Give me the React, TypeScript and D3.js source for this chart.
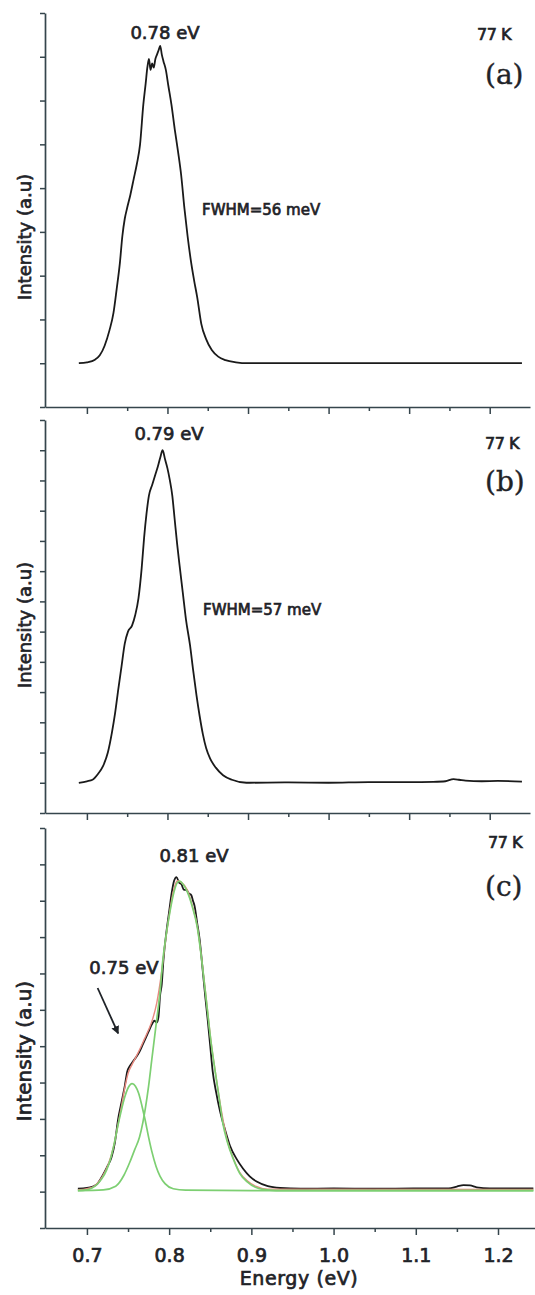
import React, { useEffect, useRef } from 'react';
import * as d3 from 'd3';

// (a) 77 K spectrum, peak 0.78 eV
const energyA = [0.690, 0.700, 0.710, 0.716, 0.722, 0.728, 0.733, 0.737, 0.741, 0.744, 0.747, 0.750, 0.754, 0.758, 0.762, 0.766, 0.770, 0.773, 0.775, 0.777, 0.779, 0.781, 0.783, 0.785, 0.787, 0.789, 0.791, 0.793, 0.795, 0.798, 0.801, 0.805, 0.809, 0.813, 0.817, 0.821, 0.825, 0.829, 0.833, 0.837, 0.842, 0.848, 0.855, 0.863, 0.872, 0.885, 0.900, 0.950, 1.000, 1.050, 1.100, 1.150, 1.200, 1.240];
const intensityA = [0.00, 0.02, 0.08, 0.18, 0.40, 0.75, 1.15, 1.70, 2.30, 2.90, 3.30, 3.55, 3.85, 4.20, 4.55, 5.00, 5.90, 6.40, 6.75, 6.95, 6.70, 6.85, 6.75, 6.95, 7.05, 7.15, 7.25, 7.05, 6.90, 6.70, 6.35, 5.90, 5.35, 4.85, 4.30, 3.55, 2.90, 2.35, 1.90, 1.50, 0.90, 0.55, 0.30, 0.15, 0.07, 0.02, 0.00, 0.00, 0.00, 0.00, 0.00, 0.00, 0.00, 0.00];

// (b) 77 K spectrum, peak 0.79 eV
const energyB = [0.690, 0.700, 0.707, 0.714, 0.720, 0.726, 0.731, 0.735, 0.739, 0.743, 0.747, 0.751, 0.756, 0.760, 0.764, 0.768, 0.771, 0.774, 0.777, 0.781, 0.785, 0.788, 0.791, 0.794, 0.797, 0.800, 0.803, 0.806, 0.809, 0.812, 0.815, 0.819, 0.823, 0.828, 0.832, 0.836, 0.840, 0.844, 0.848, 0.853, 0.860, 0.869, 0.880, 0.898, 0.950, 1.000, 1.050, 1.100, 1.130, 1.145, 1.155, 1.162, 1.170, 1.190, 1.210, 1.240];
const intensityB = [0.00, 0.05, 0.10, 0.30, 0.55, 1.00, 1.65, 2.30, 3.10, 3.85, 4.60, 5.00, 5.20, 5.55, 6.10, 7.10, 8.10, 8.90, 9.50, 9.85, 10.20, 10.45, 10.75, 11.00, 10.70, 10.40, 10.00, 9.50, 8.70, 7.90, 7.20, 6.30, 5.40, 4.55, 3.70, 2.90, 2.20, 1.60, 1.15, 0.80, 0.50, 0.25, 0.10, 0.00, 0.01, 0.00, 0.02, 0.02, 0.03, 0.05, 0.12, 0.10, 0.07, 0.05, 0.06, 0.04];

// (c) 77 K spectrum with two-peak fit (0.75 eV + 0.81 eV)
const energyC = [0.689, 0.700, 0.707, 0.712, 0.719, 0.725, 0.730, 0.734, 0.738, 0.742, 0.746, 0.749, 0.752, 0.756, 0.760, 0.764, 0.768, 0.772, 0.776, 0.779, 0.782, 0.785, 0.787, 0.789, 0.791, 0.793, 0.797, 0.800, 0.803, 0.806, 0.809, 0.812, 0.815, 0.818, 0.821, 0.824, 0.827, 0.829, 0.831, 0.834, 0.837, 0.841, 0.844, 0.847, 0.850, 0.853, 0.857, 0.862, 0.868, 0.874, 0.882, 0.890, 0.898, 0.907, 0.920, 0.935, 0.960, 1.000, 1.050, 1.100, 1.140, 1.150, 1.158, 1.166, 1.174, 1.190, 1.220, 1.243];
const intensityC = [0.08, 0.10, 0.14, 0.20, 0.44, 0.70, 0.95, 1.35, 2.00, 2.45, 2.90, 3.30, 3.45, 3.58, 3.70, 3.85, 4.05, 4.25, 4.45, 4.60, 4.70, 4.65, 4.80, 5.40, 5.70, 6.35, 7.20, 7.70, 8.20, 8.55, 8.65, 8.50, 8.45, 8.30, 8.30, 8.20, 8.15, 8.00, 7.85, 7.40, 6.95, 6.05, 5.35, 4.70, 4.00, 3.30, 2.75, 2.20, 1.70, 1.26, 0.90, 0.63, 0.42, 0.27, 0.15, 0.10, 0.08, 0.09, 0.08, 0.09, 0.09, 0.14, 0.18, 0.17, 0.12, 0.09, 0.09, 0.09];

const fitEnergy = [0.689, 0.700, 0.710, 0.719, 0.726, 0.732, 0.737, 0.742, 0.746, 0.750, 0.755, 0.760, 0.765, 0.770, 0.775, 0.780, 0.785, 0.790, 0.795, 0.800, 0.805, 0.810, 0.815, 0.822, 0.828, 0.834, 0.840, 0.846, 0.851, 0.856, 0.861, 0.866, 0.871, 0.878, 0.886, 0.895, 0.905, 0.920, 1.243];
const fitSum = [0.05, 0.08, 0.17, 0.42, 0.75, 1.20, 1.75, 2.35, 2.85, 3.25, 3.50, 3.72, 3.95, 4.20, 4.45, 4.75, 5.20, 5.90, 6.80, 7.60, 8.25, 8.55, 8.50, 8.30, 7.88, 7.32, 6.32, 5.12, 4.12, 3.32, 2.57, 1.92, 1.38, 0.92, 0.52, 0.30, 0.15, 0.07, 0.06];

const peak1Energy = [0.689, 0.700, 0.710, 0.718, 0.724, 0.728, 0.733, 0.738, 0.742, 0.746, 0.750, 0.755, 0.759, 0.763, 0.767, 0.771, 0.775, 0.779, 0.784, 0.789, 0.795, 0.805, 0.820, 0.900, 1.243];
const peak1Intensity = [0.03, 0.05, 0.15, 0.35, 0.60, 0.85, 1.30, 1.85, 2.25, 2.60, 2.85, 2.97, 2.90, 2.70, 2.35, 1.95, 1.50, 1.10, 0.70, 0.42, 0.22, 0.08, 0.04, 0.03, 0.03];

const peak2Energy = [0.689, 0.720, 0.735, 0.745, 0.752, 0.758, 0.764, 0.768, 0.771, 0.775, 0.779, 0.782, 0.785, 0.789, 0.792, 0.796, 0.801, 0.806, 0.810, 0.813, 0.817, 0.822, 0.828, 0.834, 0.840, 0.846, 0.851, 0.856, 0.861, 0.865, 0.871, 0.878, 0.886, 0.895, 0.905, 0.914, 0.930, 1.243];
const peak2Intensity = [0.03, 0.05, 0.15, 0.45, 0.80, 1.15, 1.50, 1.90, 2.28, 2.90, 3.65, 4.20, 4.75, 5.50, 6.30, 7.00, 7.70, 8.25, 8.50, 8.54, 8.45, 8.25, 7.85, 7.30, 6.30, 5.10, 4.10, 3.30, 2.55, 1.92, 1.35, 0.90, 0.50, 0.27, 0.12, 0.06, 0.03, 0.03];

const majorTicks = [0.7, 0.8, 0.9, 1.0, 1.1, 1.2];
const minorTicks = [0.75, 0.85, 0.95, 1.05, 1.15];
const tickLabels = ['0.7', '0.8', '0.9', '1.0', '1.1', '1.2'];

const W = 535;
const H = 1295;
const SANS = '"DejaVu Sans", Verdana, sans-serif';
const SERIF = '"DejaVu Serif", "Liberation Serif", serif';
const INK = '#1f2328';
const AXIS = '#35454c';
const DATA = '#1a1a1a';
const RED = '#e88a80';
const GREEN = '#7dcf72';

const zip = (es, is) => es.map((e, k) => ({ e, i: is[k] }));

const panels = [
  {
    top: 13, bottom: 407, xRange: [45, 530], xDomain: [0.648, 1.25], yMax: 8,
    series: [{ pts: zip(energyA, intensityA), color: DATA, width: 1.8 }],
    peak: '0.78 eV', peakXY: [165, 39], fwhm: 'FWHM=56 meV', fwhmXY: [202, 215],
    kXY: [477, 40], tag: '(a)', tagXY: [485, 84], ylabelY: 237, ylabelSize: 18,
  },
  {
    top: 420, bottom: 813, xRange: [45, 530], xDomain: [0.648, 1.25], yMax: 12,
    series: [{ pts: zip(energyB, intensityB), color: DATA, width: 1.8 }],
    peak: '0.79 eV', peakXY: [169, 440], fwhm: 'FWHM=57 meV', fwhmXY: [203, 615],
    kXY: [485, 449], tag: '(b)', tagXY: [485, 491], ylabelY: 625, ylabelSize: 18,
  },
  {
    top: 828, bottom: 1228, xRange: [45, 535], xDomain: [0.649, 1.245], yMax: 10,
    series: [
      { pts: zip(energyC, intensityC), color: DATA, width: 1.8 },
      { pts: zip(fitEnergy, fitSum), color: RED, width: 1.4 },
      { pts: zip(peak1Energy, peak1Intensity), color: GREEN, width: 1.7 },
      { pts: zip(peak2Energy, peak2Intensity), color: GREEN, width: 1.7 },
    ],
    peak: '0.81 eV', peakXY: [194, 862], fwhm: null, fwhmXY: null,
    kXY: [488, 848], tag: '(c)', tagXY: [485, 896], ylabelY: 1051, ylabelSize: 20,
    labels: true,
  },
];

const App = () => {
  const svgRef = useRef(null);

  useEffect(() => {
    const svg = d3.select(svgRef.current);
    svg.selectAll('*').remove();

    svg.append('rect').attr('width', W).attr('height', H).attr('fill', 'white');

    svg.append('defs').append('marker')
      .attr('id', 'arrowhead')
      .attr('viewBox', '0 0 10 10')
      .attr('refX', 9).attr('refY', 5)
      .attr('markerWidth', 4.5).attr('markerHeight', 4.5)
      .attr('orient', 'auto')
      .append('path').attr('d', 'M0,0 L10,5 L0,10 z').attr('fill', INK);

    // the source text is heavy, so thicken regular glyphs slightly
    const boldText = (sel) => sel.attr('fill', INK).attr('stroke', INK).attr('stroke-width', 0.7);

    panels.forEach((p) => {
      const x = d3.scaleLinear().domain(p.xDomain).range(p.xRange);
      const y = d3.scaleLinear().domain([-1, p.yMax]).range([p.bottom, p.top]);
      const g = svg.append('g');

      // y axis (unlabelled ticks)
      const yAxis = g.append('g')
        .attr('transform', `translate(${p.xRange[0]},0)`)
        .call(d3.axisLeft(y).tickValues(d3.range(-1, p.yMax + 1)).tickSize(5).tickSizeOuter(0).tickFormat(() => ''));
      yAxis.selectAll('line').attr('stroke', AXIS).attr('stroke-width', 1.5);
      yAxis.select('.domain').attr('stroke', AXIS).attr('stroke-width', 1.7);

      // x axis
      const xAxis = g.append('g')
        .attr('transform', `translate(0,${p.bottom})`)
        .call(d3.axisBottom(x).tickValues(majorTicks).tickSize(7).tickSizeOuter(0)
          .tickFormat((d, k) => (p.labels ? tickLabels[k] : '')));
      xAxis.selectAll('line').attr('stroke', AXIS).attr('stroke-width', 1.5);
      xAxis.select('.domain').attr('stroke', AXIS).attr('stroke-width', 1.7);
      xAxis.selectAll('text')
        .attr('dy', null).attr('y', 34)
        .style('font-family', SANS).style('font-size', '19px')
        .call(boldText);

      const minor = g.append('g')
        .attr('transform', `translate(0,${p.bottom})`)
        .call(d3.axisBottom(x).tickValues(minorTicks).tickSize(4).tickFormat(() => ''));
      minor.select('.domain').remove();
      minor.selectAll('line').attr('stroke', AXIS).attr('stroke-width', 1.5);

      // curves
      const line = d3.line().x((d) => x(d.e)).y((d) => y(d.i)).curve(d3.curveMonotoneX);
      p.series.forEach((s) => {
        g.append('path')
          .datum(s.pts)
          .attr('d', line)
          .attr('fill', 'none')
          .attr('stroke', s.color)
          .attr('stroke-width', s.width)
          .attr('stroke-linejoin', 'round');
      });

      // annotations
      g.append('text')
        .attr('x', p.peakXY[0]).attr('y', p.peakXY[1])
        .attr('text-anchor', 'middle')
        .style('font-family', SANS).style('font-size', '18px')
        .text(p.peak).call(boldText);

      if (p.fwhm) {
        g.append('text')
          .attr('x', p.fwhmXY[0]).attr('y', p.fwhmXY[1])
          .style('font-family', SANS).style('font-size', '15px')
          .text(p.fwhm).call(boldText);
      }

      g.append('text')
        .attr('x', p.kXY[0]).attr('y', p.kXY[1])
        .style('font-family', SANS).style('font-size', '16px').style('letter-spacing', '-0.5px')
        .text('77 K').call(boldText);

      g.append('text')
        .attr('x', p.tagXY[0]).attr('y', p.tagXY[1])
        .style('font-family', SERIF).style('font-size', '28px')
        .attr('fill', INK).attr('stroke', INK).attr('stroke-width', 0.4)
        .text(p.tag);

      g.append('text')
        .attr('transform', `translate(31,${p.ylabelY}) rotate(-90)`)
        .attr('text-anchor', 'middle')
        .style('font-family', SANS).style('font-size', `${p.ylabelSize}px`)
        .text('Intensity (a.u)').call(boldText);

      if (p.labels) {
        g.append('text')
          .attr('x', x(0.958)).attr('y', 1285)
          .attr('text-anchor', 'middle')
          .style('font-family', SANS).style('font-size', '19px').style('letter-spacing', '0.6px')
          .text('Energy (eV)').call(boldText);

        g.append('text')
          .attr('x', x(0.745)).attr('y', 974)
          .attr('text-anchor', 'middle')
          .style('font-family', SANS).style('font-size', '18px')
          .text('0.75 eV').call(boldText);

        g.append('line')
          .attr('x1', x(0.713)).attr('y1', y(5.6))
          .attr('x2', x(0.738)).attr('y2', y(4.35))
          .attr('stroke', INK).attr('stroke-width', 1.8)
          .attr('marker-end', 'url(#arrowhead)');
      }
    });
  }, []);

  return (
    <svg
      ref={svgRef}
      width={W}
      height={H}
      style={{ position: 'absolute', left: 0, top: 0, display: 'block' }}
    />
  );
};

export default App;
